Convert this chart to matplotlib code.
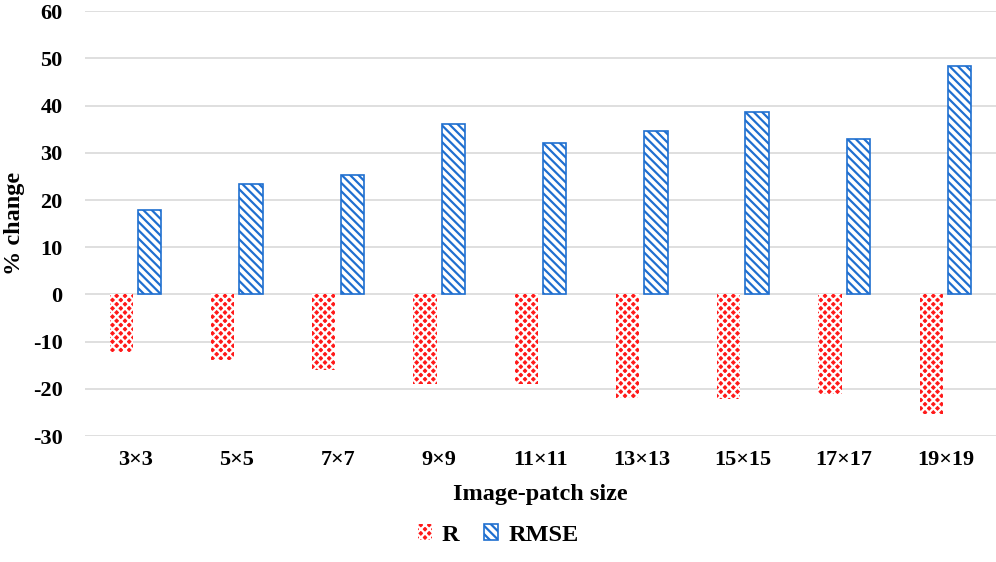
import matplotlib
matplotlib.use('Agg')
import matplotlib.pyplot as plt
import numpy as np

sizes = ['3×3', '5×5', '7×7', '9×9', '11×11', '13×13', '15×15', '17×17', '19×19']
r_change = [-12.2, -13.9, -15.9, -18.9, -19.0, -21.9, -22.1, -21.1, -25.3]
rmse_change = [18.0, 23.3, 25.3, 36.1, 32.0, 34.6, 38.7, 33.0, 48.4]

plt.rcParams['font.family'] = ['Liberation Serif', 'DejaVu Serif']
plt.rcParams['font.weight'] = 'bold'
plt.rcParams['axes.unicode_minus'] = False
plt.rcParams['hatch.linewidth'] = 1.6

fig = plt.figure(figsize=(9.96, 5.62), dpi=100)
ax = fig.add_axes([0.0853, 0.224, 0.9147, 0.756])

x = np.arange(len(sizes))
w = 0.23
ax.bar(x - 0.14, r_change, w, facecolor='#ff1a1a', edgecolor='white',
       hatch='xxxx', linewidth=0, label='R', zorder=3)
ax.bar(x + 0.14, rmse_change, w, facecolor='white', edgecolor='#1f6fd0',
       hatch='\\\\\\\\', linewidth=1.2, label='RMSE', zorder=3)

ax.set_xlim(-0.5, len(sizes) - 0.5)
ax.set_ylim(-30, 60)
ax.set_yticks(range(-30, 61, 10))
ax.set_xticks(x)
ax.set_xticklabels(sizes)
ax.tick_params(axis='both', length=0, labelsize=16)
ax.tick_params(axis='x', pad=10)
ax.tick_params(axis='y', pad=16)
ax.grid(axis='y', color='#d9d9d9', linewidth=1.2, zorder=0)
for s in ax.spines.values():
    s.set_visible(False)

ax.set_xlabel('Image-patch size', fontsize=17.5, fontweight='bold', labelpad=10)
# y label placed by hand so it sits at the left edge like the original
fig.text(0.015, 0.602, '% change', rotation=90, ha='center', va='center',
         fontsize=17.5, fontweight='bold')

fig.legend(loc='lower center', bbox_to_anchor=(0.5, -0.01), ncol=2, frameon=False,
           fontsize=17.5, handlelength=0.6, handleheight=0.6, columnspacing=1.0,
           handletextpad=0.4)

fig.savefig('out.png', dpi=100)
